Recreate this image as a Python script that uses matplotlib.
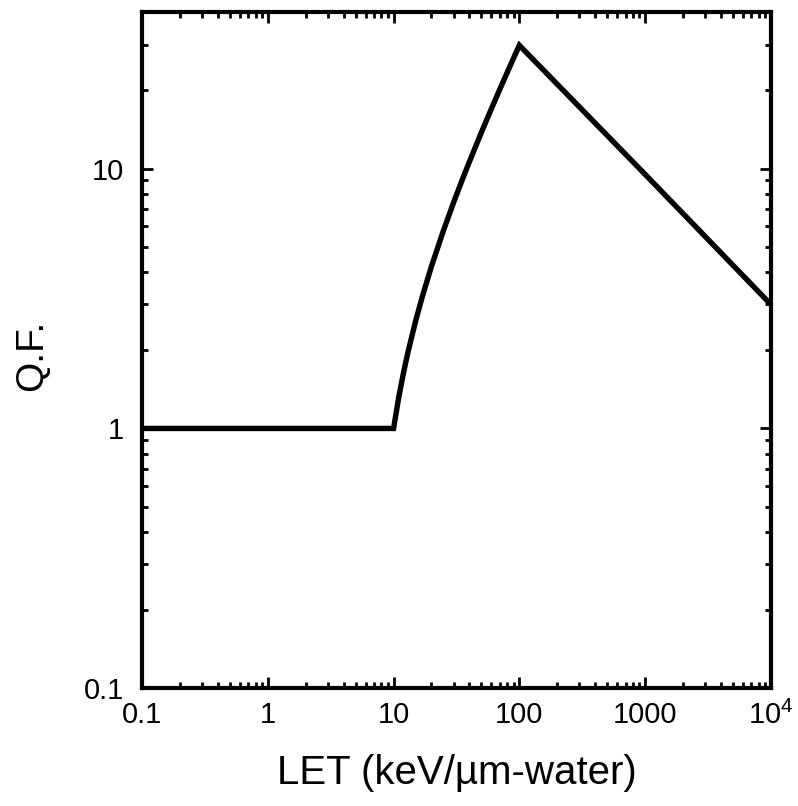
import matplotlib
matplotlib.use("Agg")
import matplotlib.pyplot as plt
from matplotlib.ticker import LogLocator, FixedLocator, FixedFormatter, NullFormatter

plt.rcParams['font.family'] = ['Liberation Sans', 'DejaVu Sans']
plt.rcParams['mathtext.fontset'] = 'custom'
plt.rcParams['mathtext.rm'] = 'Liberation Sans'

# Data
let_values = [0.1, 10, 11, 12, 13, 15, 17, 20, 25, 30, 35, 40, 50, 60, 70, 80, 90, 100, 1000, 10000]
qf_values = [1.0, 1.0, 1.32, 1.64, 1.96, 2.6, 3.24, 4.2, 5.8, 7.4, 9.0, 10.6, 13.8, 17.0, 20.2,
             23.4, 26.6, 29.8, 9.5, 3.0]

x_ticks = [0.1, 1, 10, 100, 1000, 10000]
x_tick_labels = ['0.1', '1', '10', '100', '1000', r'10$^{4}$']
y_ticks = [0.1, 1, 10]
y_tick_labels = ['0.1', '1', '10']

fig = plt.figure(figsize=(7.98, 8.06), dpi=100)
ax = fig.add_axes([0.178, 0.146, 0.788, 0.839])
ax.plot(let_values, qf_values, color='black', lw=3.9, solid_joinstyle='miter', solid_capstyle='butt')
ax.set_xscale('log')
ax.set_yscale('log')
ax.set_xlim(0.1, 10000)
ax.set_ylim(0.1, 40)

ax.xaxis.set_major_locator(FixedLocator(x_ticks))
ax.xaxis.set_major_formatter(FixedFormatter(x_tick_labels))
ax.yaxis.set_major_locator(FixedLocator(y_ticks))
ax.yaxis.set_major_formatter(FixedFormatter(y_tick_labels))
ax.xaxis.set_minor_locator(LogLocator(base=10, subs=range(2, 10)))
ax.yaxis.set_minor_locator(LogLocator(base=10, subs=range(2, 10)))
ax.xaxis.set_minor_formatter(NullFormatter())
ax.yaxis.set_minor_formatter(NullFormatter())

for s in ax.spines.values():
    s.set_linewidth(3)
ax.tick_params(which='both', direction='in', top=True, right=True, width=2, labelsize=21)
ax.tick_params(which='major', length=8)
ax.tick_params(which='minor', length=4)
ax.tick_params(axis='x', which='major', pad=9)
ax.tick_params(axis='y', which='major', pad=13)

ax.set_xlabel('LET (keV/\u00b5m-water)', fontsize=29)
ax.set_ylabel('Q.F.', fontsize=28)
ax.xaxis.set_label_coords(0.5, -0.097)
ax.yaxis.set_label_coords(-0.146, 0.493)

fig.savefig('out.png', dpi=100)
